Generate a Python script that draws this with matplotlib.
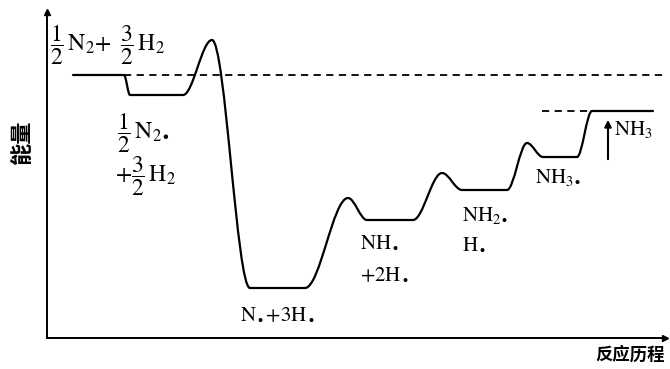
import matplotlib
matplotlib.use("Agg")
import matplotlib.pyplot as plt
from matplotlib.path import Path
from matplotlib.patches import PathPatch

plt.rcParams["mathtext.fontset"] = "stix"
plt.rcParams["font.family"] = ["Liberation Serif", "DejaVu Serif"]

# reaction path nodes: x = progress, e = energy (arbitrary units)
path_x = [26, 77, 83, 136, 165, 203, 258, 301, 320, 366, 395, 415, 460, 480, 496, 530, 545, 606]
path_e = [263, 263, 243, 243, 298, 50, 50, 140, 118, 118, 165, 148, 148, 195, 181, 181, 227, 227]

start_e = 263      # initial level, dashed across
final_e = 227      # NH3 level
dash_final = (495, 543)
arrow_x, arrow_e = 561, (176, 221)

frac_labels = [
    (3, 293, r"$\dfrac{1}{2}\,\mathrm{N_2}{+}\;\;\dfrac{3}{2}\,\mathrm{H_2}$"),
    (70, 205, r"$\dfrac{1}{2}\,\mathrm{N_{2\bullet}}$"),
    (68, 162, r"${+}\dfrac{3}{2}\,\mathrm{H_2}$"),
]
species_labels = [
    (193, 23, r"$\mathrm{N_\bullet{+}3H_\bullet}$"),
    (313, 95, r"$\mathrm{NH_\bullet}$"),
    (313, 63, r"${+}\mathrm{2H_\bullet}$"),
    (415, 123, r"$\mathrm{NH_{2\bullet}}$"),
    (415, 93, r"$\mathrm{H_\bullet}$"),
    (488, 160, r"$\mathrm{NH_{3\bullet}}$"),
    (567, 208, r"$\mathrm{NH_3}$"),
]

fig = plt.figure(figsize=(6.7, 3.69), dpi=100)
ax = fig.add_axes([47 / 670, 31 / 369, 618 / 670, 326 / 369])
ax.set_xlim(0, 618)
ax.set_ylim(0, 326)
ax.set_xticks([]); ax.set_yticks([])
for s in ("top", "right"):
    ax.spines[s].set_visible(False)
for s in ("left", "bottom"):
    ax.spines[s].set_linewidth(1.4)
ax.plot([0], [1], marker="^", ms=5, color="k", transform=ax.transAxes, clip_on=False)
ax.plot([1], [0], marker=">", ms=5, color="k", transform=ax.transAxes, clip_on=False)

# smooth curve: straight on flats, cubic bezier with flat tangents between levels
verts = [(path_x[0], path_e[0])]
codes = [Path.MOVETO]
for (x0, e0), (x1, e1) in zip(zip(path_x, path_e), zip(path_x[1:], path_e[1:])):
    if e0 == e1:
        verts.append((x1, e1)); codes.append(Path.LINETO)
    else:
        d = (x1 - x0) * 0.35
        verts += [(x0 + d, e0), (x1 - d, e1), (x1, e1)]
        codes += [Path.CURVE4] * 3
ax.add_patch(PathPatch(Path(verts, codes), fill=False, lw=1.6, ec="k", capstyle="round"))

ax.plot([path_x[1], 618], [start_e, start_e], ls=(0, (4, 3)), lw=1.3, color="k")
ax.plot(dash_final, [final_e, final_e], ls=(0, (4, 3)), lw=1.3, color="k")
ax.annotate("", xy=(arrow_x, arrow_e[1]), xytext=(arrow_x, arrow_e[0]),
            arrowprops=dict(arrowstyle="-|>", lw=1.5, color="k", mutation_scale=10))

for x, y, t in frac_labels:
    ax.text(x, y, t, fontsize=17, ha="left", va="center", clip_on=False)
for x, y, t in species_labels:
    ax.text(x, y, t, fontsize=15, ha="left", va="center", clip_on=False)

cjk = ["Noto Sans CJK SC", "DejaVu Sans"]
ax.text(-25, 196, "能量", rotation=90, fontsize=16, family=cjk, weight="bold",
        ha="center", va="center", clip_on=False)
ax.text(618, -17, "反应历程", fontsize=12.5, family=cjk, weight="bold",
        ha="right", va="center", clip_on=False)

fig.savefig("out.png", dpi=100)
